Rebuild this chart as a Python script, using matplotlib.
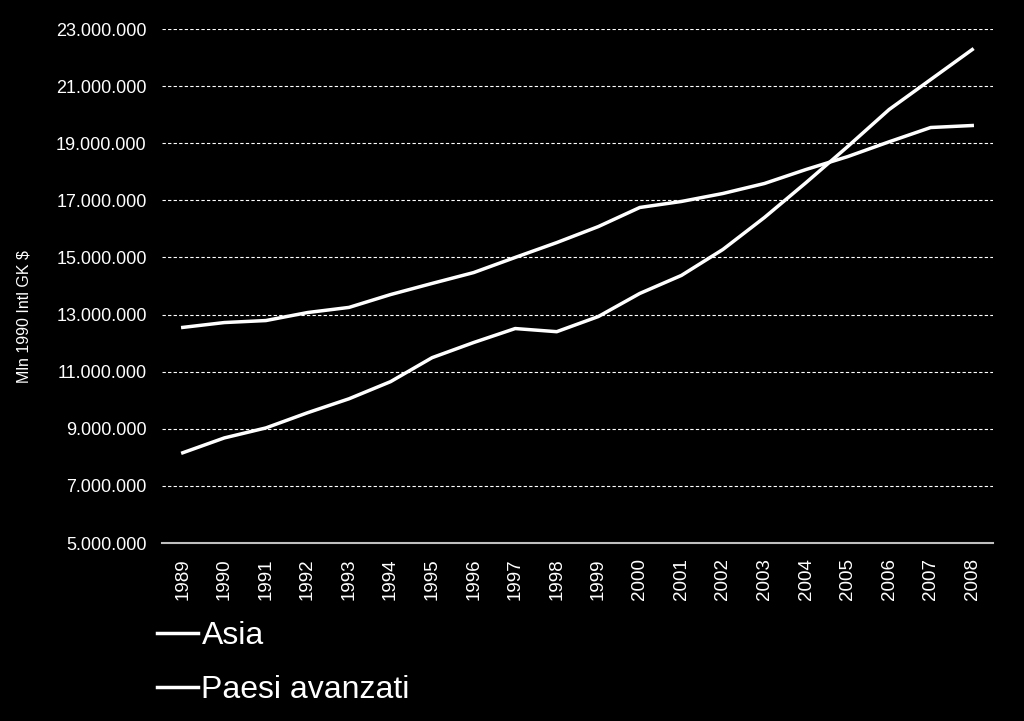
import numpy as np
import matplotlib
matplotlib.use('Agg')
import matplotlib.pyplot as plt
from matplotlib.ticker import FuncFormatter

years = [str(y) for y in range(1989, 2009)]
asia = [8.16, 8.68, 9.03, 9.56, 10.05, 10.65, 11.49, 12.02, 12.51, 12.40,
        12.93, 13.74, 14.37, 15.28, 16.40, 17.62, 18.88, 20.18, 21.23, 22.28]
avanzati = [12.55, 12.72, 12.79, 13.07, 13.25, 13.70, 14.09, 14.47, 15.00, 15.52,
            16.08, 16.75, 16.96, 17.24, 17.59, 18.08, 18.53, 19.05, 19.55, 19.62]
# read in millions, plotted as full values
asia = np.array(asia) * 1e6
avanzati = np.array(avanzati) * 1e6

plt.rcParams['font.family'] = ['Liberation Sans', 'DejaVu Sans']

fig = plt.figure(figsize=(10.24, 7.21), dpi=100, facecolor='black')
ax = fig.add_axes([162/1024, (721-543)/721, (993-162)/1024, (543-29)/721])
ax.set_facecolor('black')

x = np.arange(len(years))
ax.plot(x, asia, color='white', lw=2.5, label='Asia')
ax.plot(x, avanzati, color='white', lw=2.5, label='Paesi avanzati')

ax.set_xlim(-0.5, len(years) - 0.5)
ax.set_ylim(5e6, 23e6)
ax.set_yticks(np.arange(5e6, 23.5e6, 2e6))
ax.yaxis.set_major_formatter(FuncFormatter(lambda v, p: f'{int(v):,}'.replace(',', '.')))
ax.set_xticks(x)
ax.set_xticklabels(years, rotation=90)
ax.tick_params(axis='y', length=0, colors='white', labelsize=13, pad=11)
ax.tick_params(axis='x', length=0, colors='white', labelsize=13.5, pad=11)

ax.grid(axis='y', color='white', linestyle=(0, (3, 2)), lw=0.8)
for s in ['top', 'right', 'left']:
    ax.spines[s].set_visible(False)
ax.spines['bottom'].set_color('#bfbfbf')
ax.spines['bottom'].set_linewidth(1.5)
ax.set_axisbelow(True)

ax.set_ylabel('Mln 1990 Intl GK $', color='white', fontsize=11.5)
ax.yaxis.set_label_coords((32 - 162) / 831, 0.44)

leg = fig.legend(loc='upper left', bbox_to_anchor=(128/1024, 1 - 592/721),
                 frameon=False, fontsize=23, handlelength=1.3, handletextpad=0.1,
                 labelspacing=0.75, labelcolor='white')

fig.savefig('out.png', dpi=100, facecolor='black')
